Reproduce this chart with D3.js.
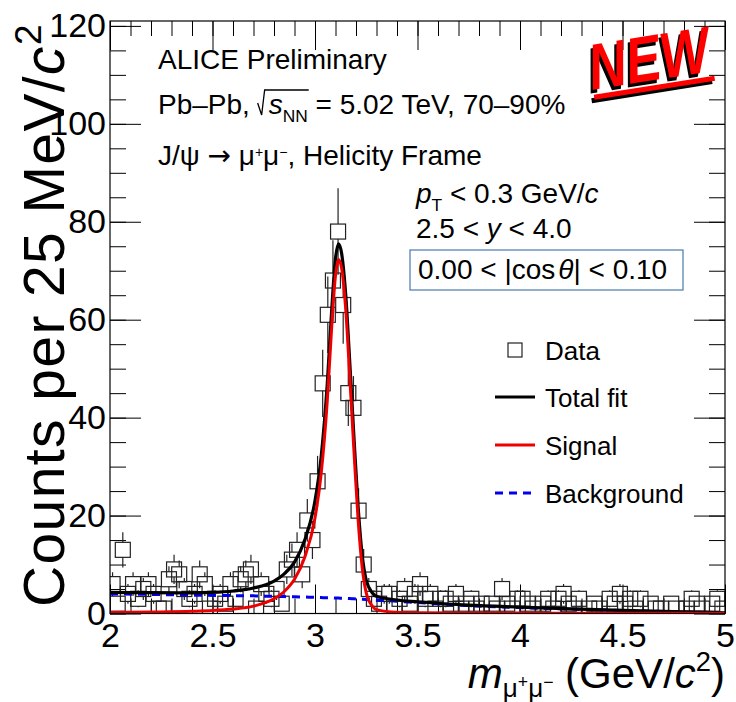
<!DOCTYPE html>
<html>
<head>
<meta charset="utf-8">
<script src="https://cdn.jsdelivr.net/npm/d3@7"></script>
<style>
  body { margin: 0; background: #fff; }
  text { font-family: "Liberation Sans", Arial, Helvetica, sans-serif; }
</style>
</head>
<body>
<svg id="chart" width="736" height="702"></svg>
<script>
// histogram: 25 MeV bins from 2 to 5 GeV/c2
const binLow = 2.0;
const binWidth = 0.025;
const counts = [
  6, 2, 13, 4, 6, 3, 5, 6, 4, 1,
  1, 7, 9, 8, 5, 3, 4, 8, 6, 1,
  3, 4, 2, 6, 3, 7, 8, 9, 1, 6,
  4, 3, 5, 2, 9, 11, 13, 8, 19, 15,
  27, 47, 61, 68, 78, 63, 45, 42, 21, 10,
  5, 3, 2, 4, 4, 1, 3, 5, 2, 4,
  6, 3, 4, 1, 3, 3, 2, 4, 1, 2,
  3, 1, 2, 0, 2, 1, 5, 2, 1, 3,
  3, 2, 1, 0, 2, 3, 1, 3, 4, 2,
  1, 3, 0, 1, 2, 1, 0, 3, 2, 4,
  2, 3, 1, 3, 0, 2, 1, 1, 0, 2,
  1, 0, 1, 3, 2, 1, 0, 2, 3, 1
];

// fit curves
const fitMass  = [2.0, 2.2, 2.4, 2.5, 2.6, 2.7, 2.8, 2.85, 2.9, 2.95, 3.0, 3.03, 3.06, 3.08, 3.1, 3.115, 3.13, 3.15, 3.17, 3.19, 3.21, 3.23, 3.25, 3.28, 3.3, 3.4, 3.5, 3.75, 4.0, 4.25, 4.5, 4.75, 5.0];
const totalFit = [4.3, 4.25, 4.2, 4.3, 4.6, 5.2, 6.6, 8.1, 10.5, 15, 23, 32, 47, 61, 72.5, 75.5, 73.5, 65, 51, 36, 22, 12, 6.8, 4.2, 3.5, 2.75, 2.4, 1.7, 1.3, 0.95, 0.65, 0.4, 0.15];
const signalFit = [0.2, 0.3, 0.45, 0.6, 0.9, 1.5, 3.0, 4.5, 7, 11.5, 19.5, 28.5, 43.5, 57.5, 69, 72.3, 70.5, 62, 48, 33.2, 19.3, 9.5, 4.2, 1.5, 0.8, 0.25, 0.15, 0.1, 0.08, 0.06, 0.05, 0.04, 0.03];
const bkgFit   = [4.0, 3.9, 3.75, 3.7, 3.65, 3.6, 3.5, 3.45, 3.4, 3.35, 3.3, 3.25, 3.2, 3.2, 3.15, 3.15, 3.1, 3.1, 3.05, 3.0, 2.95, 2.9, 2.85, 2.8, 2.75, 2.5, 2.25, 1.6, 1.2, 0.9, 0.6, 0.36, 0.12];

const legendLabels = ["Data", "Total fit", "Signal", "Background"];

const svg = d3.select("#chart");
const fontSize = 28;

const x = d3.scaleLinear().domain([2, 5]).range([110, 725]);
const y = d3.scaleLinear().domain([0, 121]).range([613.5, 21]);

svg.append("defs").append("clipPath").attr("id", "frameClip")
  .append("rect")
  .attr("x", x(2)).attr("y", y(121))
  .attr("width", x(5) - x(2)).attr("height", y(0) - y(121));

// axes (ticks inside, mirrored on top / right like ROOT)
function styleAxis(g) {
  g.select(".domain").remove();
  g.attr("font-family", "Liberation Sans, Arial, sans-serif").attr("font-size", 34);
  g.selectAll(".tick line").attr("stroke", "#000").attr("stroke-width", 1);
  g.selectAll("text").attr("fill", "#000");
}
svg.append("g").attr("transform", `translate(0,${y(0)})`)
  .call(d3.axisBottom(x).tickValues(x.ticks(30)).tickSize(-15).tickFormat(""))
  .call(styleAxis);
svg.append("g").attr("transform", `translate(0,${y(0)})`)
  .call(d3.axisBottom(x).ticks(6).tickSize(-29).tickPadding(9).tickFormat(d3.format("")))
  .call(styleAxis);
svg.append("g").attr("transform", `translate(0,${y(121)})`)
  .call(d3.axisBottom(x).tickValues(x.ticks(30)).tickSize(15).tickFormat(""))
  .call(styleAxis);
svg.append("g").attr("transform", `translate(0,${y(121)})`)
  .call(d3.axisBottom(x).ticks(6).tickSize(29).tickFormat(""))
  .call(styleAxis);

svg.append("g").attr("transform", `translate(${x(2)},0)`)
  .call(d3.axisLeft(y).tickValues(y.ticks(24)).tickSize(-16).tickFormat(""))
  .call(styleAxis);
svg.append("g").attr("transform", `translate(${x(2)},0)`)
  .call(d3.axisLeft(y).ticks(6).tickSize(-31).tickPadding(4).tickFormat(d3.format("")))
  .call(styleAxis);
svg.append("g").attr("transform", `translate(${x(5)},0)`)
  .call(d3.axisLeft(y).tickValues(y.ticks(24)).tickSize(16).tickFormat(""))
  .call(styleAxis);
svg.append("g").attr("transform", `translate(${x(5)},0)`)
  .call(d3.axisLeft(y).ticks(6).tickSize(31).tickFormat(""))
  .call(styleAxis);

// data points
const bins = counts.map((c, i) => ({ m: binLow + (i + 0.5) * binWidth, c: c }))
  .filter(d => d.c > 0);
const half = 7.5;
const plot = svg.append("g").attr("clip-path", "url(#frameClip)");

const pts = plot.append("g").attr("stroke", "#222").attr("stroke-width", 1.2).attr("fill", "none");
bins.forEach(d => {
  const cy = y(d.c), cx = x(d.m);
  const err = Math.sqrt(d.c);
  const top = y(d.c + err), bot = y(d.c - err);
  if (cy - half > top) pts.append("line").attr("x1", cx).attr("x2", cx).attr("y1", top).attr("y2", cy - half);
  if (bot > cy + half) pts.append("line").attr("x1", cx).attr("x2", cx).attr("y1", cy + half).attr("y2", bot);
  pts.append("rect").attr("x", cx - half).attr("y", cy - half).attr("width", 2 * half).attr("height", 2 * half);
});

// fit curves
const line = d3.line().x(d => x(d[0])).y(d => y(d[1])).curve(d3.curveMonotoneX);
plot.append("path").attr("d", line(d3.zip(fitMass, bkgFit)))
  .attr("fill", "none").attr("stroke", "#0000ee").attr("stroke-width", 3).attr("stroke-dasharray", "8,6");
plot.append("path").attr("d", line(d3.zip(fitMass, totalFit)))
  .attr("fill", "none").attr("stroke", "#000").attr("stroke-width", 3.2);
plot.append("path").attr("d", line(d3.zip(fitMass, signalFit)))
  .attr("fill", "none").attr("stroke", "#ee0000").attr("stroke-width", 3);

// frame
svg.append("rect")
  .attr("x", x(2)).attr("y", y(121))
  .attr("width", x(5) - x(2)).attr("height", y(0) - y(121))
  .attr("fill", "none").attr("stroke", "#000").attr("stroke-width", 1.2);

// rich text helper: parts with optional italic / sub / sup
//   sub / sup: normal scripts; ssup: small raised sign; sub2: small sign on a subscript
function rich(parent, px, py, size, parts, anchor) {
  const t = parent.append("text").attr("x", px).attr("y", py)
    .attr("font-size", size).attr("fill", "#000");
  if (anchor) t.attr("text-anchor", anchor);
  let shift = 0;
  parts.forEach(p => {
    let target = 0, fs = null;
    if (p.sub) { target = size * (p.lo || 0.27); fs = 0.62; }
    if (p.sup) { target = -size * 0.4; fs = 0.65; }
    if (p.ssup) { target = -size * 0.3; fs = 0.5; }
    if (p.sub2) { target = size * (p.lo || 0.27) - size * 0.22; fs = 0.42; }
    const ts = t.append("tspan").text(p.t).attr("dy", target - shift);
    shift = target;
    if (fs) ts.attr("font-size", size * fs);
    if (p.it) ts.attr("font-style", "italic");
    if (p.dx) ts.attr("dx", p.dx);
    if (p.ff) ts.attr("font-family", p.ff);
  });
  return t;
}

// axis titles
rich(svg, 0, 0, 57, [
  { t: "Counts per 25 MeV/" }, { t: "c", it: true }, { t: "2", sup: true }
], "end").attr("letter-spacing", 1.4)
  .attr("transform", `translate(64,${y(121) + 2}) rotate(-90)`);

rich(svg, 725, 688, 42, [
  { t: "m", it: true }, { t: "μ", sub: true, lo: 0.22 }, { t: "+", sub2: true, lo: 0.22 },
  { t: "μ", sub: true, lo: 0.22 }, { t: "−", sub2: true, lo: 0.22 },
  { t: " (GeV/" }, { t: "c", it: true }, { t: "2", sup: true }, { t: ")" }
], "end");

// header texts
rich(svg, 158, 69, fontSize, [{ t: "ALICE Preliminary" }]);

const pb = rich(svg, 158, 114, fontSize, [
  { t: "Pb–Pb, " }, { t: "s", it: true, dx: 11 }, { t: "NN", sub: true }, { t: " = 5.02 TeV, 70–90%" }
]);
{
  const n = pb.node();
  const sx = n.getStartPositionOfChar(7).x;
  const nnEnd = n.getEndPositionOfChar(9).x;
  const b = 114;
  svg.append("path")
    .attr("d", `M${sx - 11},${b - 11} L${sx - 7},${b + 1} L${sx - 4},${b - 24} L${nnEnd + 1},${b - 24}`)
    .attr("fill", "none").attr("stroke", "#000").attr("stroke-width", 1.3);
}

rich(svg, 158, 165, fontSize, [
  { t: "J/ψ " }, { t: "→", ff: "DejaVu Sans" }, { t: " μ" }, { t: "+", ssup: true },
  { t: "μ" }, { t: "−", ssup: true }, { t: ", Helicity Frame" }
]);

rich(svg, 416, 203, fontSize, [
  { t: "p", it: true }, { t: "T", sub: true }, { t: " < 0.3 GeV/" }, { t: "c", it: true }
]);
rich(svg, 416, 238, fontSize, [
  { t: "2.5 < " }, { t: "y", it: true }, { t: " < 4.0" }
]);
svg.append("rect").attr("x", 410).attr("y", 250).attr("width", 273).attr("height", 40)
  .attr("fill", "none").attr("stroke", "#4a78b0").attr("stroke-width", 1.2);
rich(svg, 418, 279, fontSize, [
  { t: "0.00 < |cos" }, { t: "θ", it: true, dx: 3 }, { t: "| < 0.10" }
]);

// legend
const leg = svg.append("g");
const legY = [350, 397, 445, 493];
leg.append("rect").attr("x", 508).attr("y", legY[0] - 7).attr("width", 14).attr("height", 14)
  .attr("fill", "none").attr("stroke", "#222").attr("stroke-width", 1.2);
leg.append("line").attr("x1", 495).attr("x2", 535).attr("y1", legY[1]).attr("y2", legY[1])
  .attr("stroke", "#000").attr("stroke-width", 3.2);
leg.append("line").attr("x1", 495).attr("x2", 535).attr("y1", legY[2]).attr("y2", legY[2])
  .attr("stroke", "#ee0000").attr("stroke-width", 3);
leg.append("line").attr("x1", 495).attr("x2", 531).attr("y1", legY[3]).attr("y2", legY[3])
  .attr("stroke", "#0000ee").attr("stroke-width", 3).attr("stroke-dasharray", "8,6");
legendLabels.forEach((s, i) => {
  leg.append("text").attr("x", 545).attr("y", legY[i] + 9.5).attr("font-size", 26).text(s);
});

// NEW stamp
const stamp = svg.append("g").attr("transform", "translate(592,90) rotate(-9)");
function stampLayer(dx, dy, color) {
  stamp.append("text").attr("x", dx).attr("y", dy)
    .attr("font-size", 58).attr("font-weight", "bold").attr("font-style", "italic")
    .attr("transform", "scale(0.9,1.12)")
    .attr("fill", color).text("NEW");
  stamp.append("rect").attr("x", dx + 1).attr("y", dy + 5).attr("width", 122).attr("height", 5)
    .attr("fill", color);
}
stampLayer(-3, 3, "#000");
stampLayer(0, 0, "#ff0000");
</script>
</body>
</html>
